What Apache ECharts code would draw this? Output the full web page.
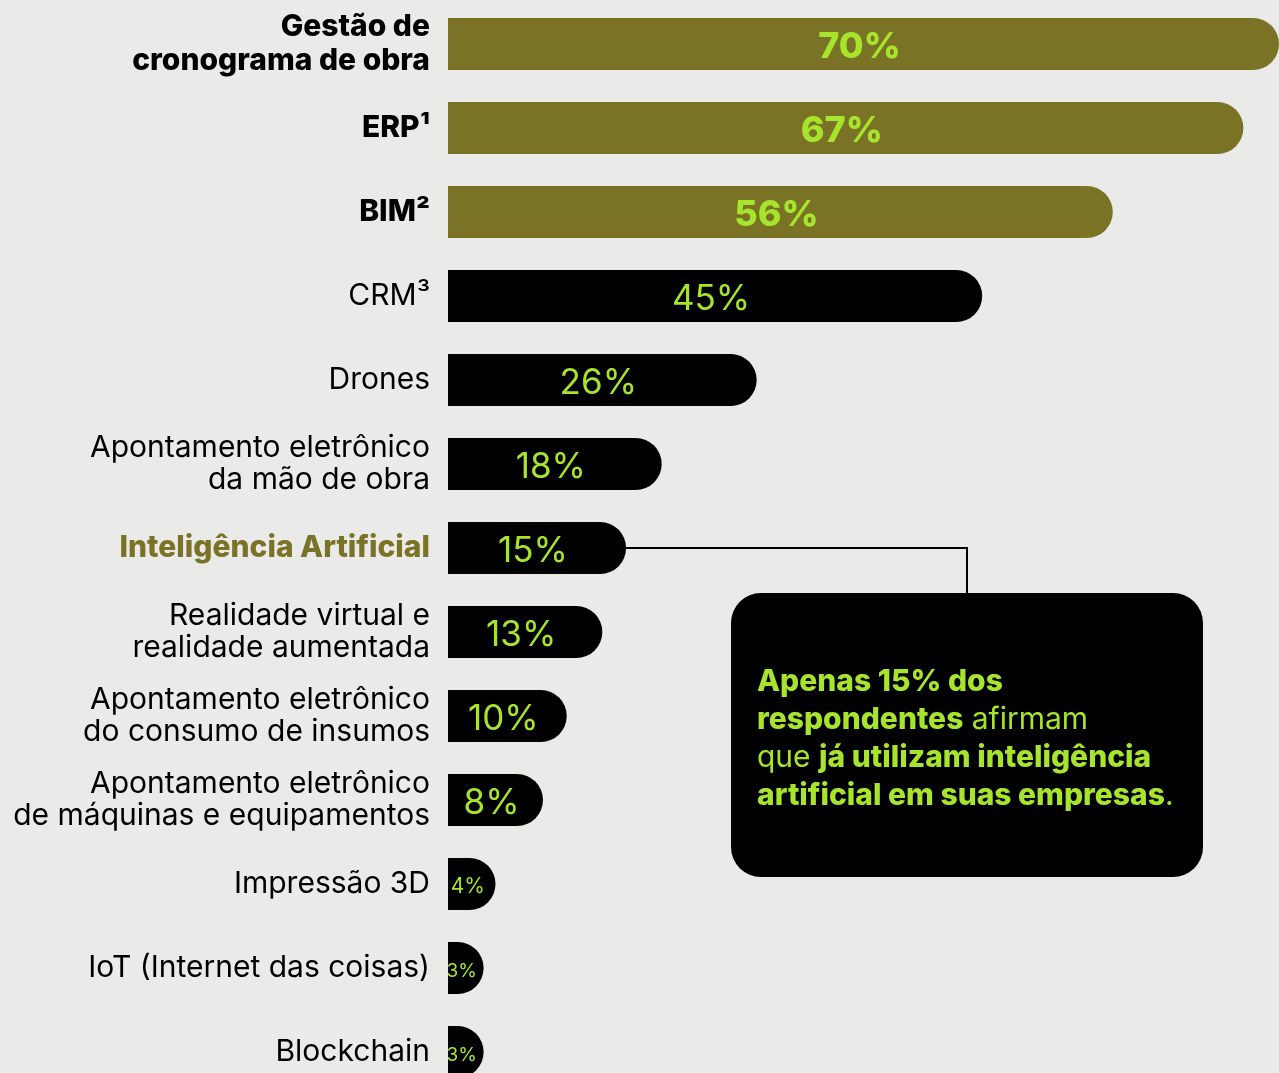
<!DOCTYPE html>
<html>
<head>
<meta charset="utf-8">
<script src="https://cdn.jsdelivr.net/npm/echarts@6/dist/echarts.min.js"></script>
<style>
html,body{margin:0;padding:0;background:#EAEAE8;}
#chart{width:1279px;height:1073px;}
</style>
</head>
<body>
<div id="chart"></div>
<script>
const categories = [
  'Gestão de\ncronograma de obra',
  'ERP¹',
  'BIM²',
  'CRM³',
  'Drones',
  'Apontamento eletrônico\nda mão de obra',
  'Inteligência Artificial',
  'Realidade virtual e\nrealidade aumentada',
  'Apontamento eletrônico\ndo consumo de insumos',
  'Apontamento eletrônico\nde máquinas e equipamentos',
  'Impressão 3D',
  'IoT (Internet das coisas)',
  'Blockchain'
];
const values = [70, 67, 56, 45, 26, 18, 15, 13, 10, 8, 4, 3, 3];
const topCount = 3;             // first items highlighted in olive
const highlightCategory = 'Inteligência Artificial';
const calloutLines = [
  [['b', 'Apenas 15% dos']],
  [['b', 'respondentes'], ['r', ' afirmam']],
  [['r', 'que '], ['b', 'já utilizam inteligência']],
  [['b', 'artificial em suas empresas'], ['r', '.']]
];

const OLIVE = '#7A7325';
const GREEN = '#A6E52C';
const FONT = 'Inter, "Open Sans", sans-serif';

const chart = echarts.init(document.getElementById('chart'));

const yData = categories.map((c, i) => {
  const t = { value: c, textStyle: {} };
  if (i < topCount) { t.textStyle = { fontWeight: 800, color: '#000', lineHeight: 34 }; }
  if (c === highlightCategory) { t.textStyle = { fontWeight: 800, color: OLIVE }; }
  return t;
});

const barData = values.map((v, i) => {
  let fs = 35, fw = 400;
  if (i < topCount) { fs = 36; fw = 800; }
  if (v <= 4) fs = 21;
  if (v <= 3) fs = 19;
  return {
    value: v,
    itemStyle: { color: i < topCount ? OLIVE : '#000' },
    label: { fontSize: fs, fontWeight: fw }
  };
});

const richStyles = {
  b: { fontFamily: FONT, fontSize: 30, fontWeight: 800, color: GREEN, lineHeight: 38 },
  r: { fontFamily: FONT, fontSize: 30, fontWeight: 400, color: GREEN, lineHeight: 38 }
};
const calloutText = calloutLines.map(line => line.map(([s, t]) => '{' + s + '|' + t + '}').join('')).join('\n');

chart.setOption({
  backgroundColor: '#EAEAE8',
  animation: false,
  grid: { left: 448, top: 2, width: 831, height: 1092, containLabel: false, outerBoundsMode: 'none' },
  xAxis: {
    type: 'value', min: 0, max: 70,
    show: false
  },
  yAxis: {
    type: 'category',
    inverse: true,
    data: yData,
    axisLine: { show: false },
    axisTick: { show: false },
    splitLine: { show: false },
    axisLabel: {
      margin: 18,
      fontFamily: FONT,
      fontSize: 30,
      color: '#000',
      lineHeight: 32,
      align: 'right',
      padding: [6, 0, 0, 0]
    }
  },
  series: [{
    type: 'bar',
    data: barData,
    barWidth: 52,
    itemStyle: { borderRadius: [0, 26, 26, 0] },
    label: {
      show: true,
      position: 'inside',
      offset: [-4, 3],
      formatter: '{c}%',
      fontFamily: FONT,
      color: GREEN
    }
  }]
});

function drawCallout() {
  const idx = categories.indexOf(highlightCategory);
  const end = chart.convertToPixel({ gridIndex: 0 }, [values[idx], idx]);
  const box = { x: 731, y: 593, w: 472, h: 284 };
  const elbowX = 967;
  chart.setOption({
    graphic: [
      {
        type: 'polyline', z: 0,
        shape: { points: [[end[0] - 2, end[1]], [elbowX, end[1]], [elbowX, box.y + 2]] },
        style: { stroke: '#000', lineWidth: 2, fill: null }
      },
      {
        type: 'rect', z: 1,
        shape: { x: box.x, y: box.y, width: box.w, height: box.h, r: 30 },
        style: { fill: '#000' }
      },
      {
        type: 'text', z: 2,
        x: 757, y: box.y + box.h / 2 + 4,
        style: {
          text: calloutText,
          rich: richStyles,
          verticalAlign: 'middle',
          align: 'left',
          fill: GREEN
        }
      }
    ]
  });
}
drawCallout();
</script>
</body>
</html>
